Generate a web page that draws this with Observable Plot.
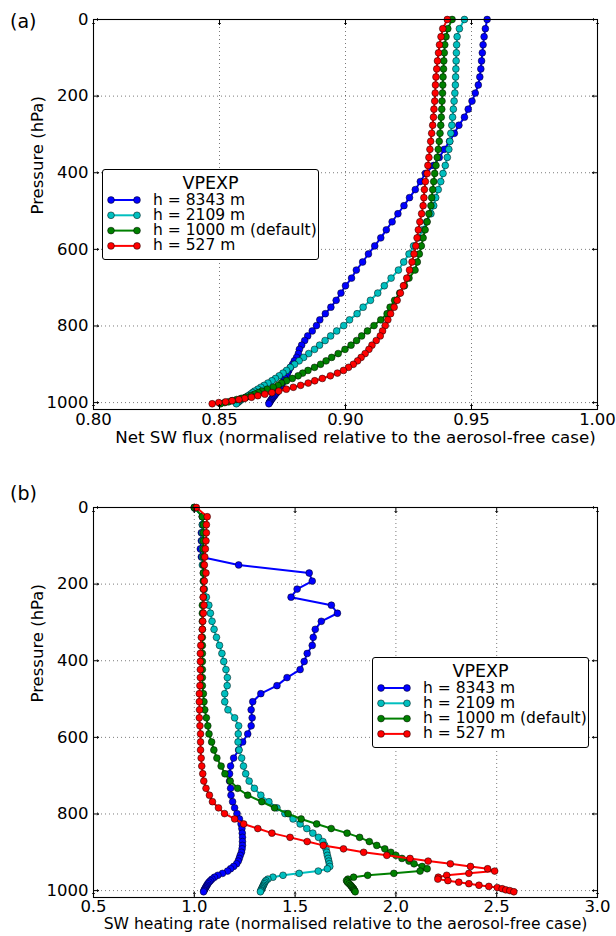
<!DOCTYPE html>
<html>
<head>
<meta charset="utf-8">
<script src="https://cdn.jsdelivr.net/npm/d3@7"></script>
<script src="https://cdn.jsdelivr.net/npm/@observablehq/plot@0.6"></script>
<style>
  html, body { margin: 0; padding: 0; background: #fff; }
  #wrap { position: relative; width: 616px; height: 936px; font-family: "DejaVu Sans", sans-serif; color: #000; }
  #wrap svg { display: block; }
  .plab { position: absolute; font-size: 19px; line-height: 1; }
  .legend { position: absolute; border: 1px solid #000; border-radius: 3px; background: #fff; box-sizing: border-box; }
  .legend .ttl { position: absolute; left: 0; right: 0; text-align: center; font-size: 17.5px; line-height: 15px; height: 15px; }
  .legend .ent { position: absolute; font-size: 15.5px; line-height: 13px; height: 13px; white-space: nowrap; }
  .legend svg { position: absolute; left: 0; top: 0; }
</style>
</head>
<body>
<div id="wrap"></div>
<script>
// ---------------- data ----------------
const levels = [0,24,45,66,87,108,129,150,171,192,
  213,234,255,276,297,318,339,360,381,402,
  423,444,465,486,507,528,549,570,591,612,
  633,654,675,695,714,733,751,768,784,799,
  813,826,838,850,861,872,882,891,900,908,
  916,923,930,937,943,949,955,960,965,970,
  974,978,982,986,989,992,995,998,1000,1003];

const seriesNames = ["h = 8343 m", "h = 2109 m", "h = 1000 m (default)", "h = 527 m"];
const seriesColors = ["#0000ff", "#00bfbf", "#008000", "#ff0000"];
const legendTitle = "VPEXP";

// Panel (a): net SW flux (normalised)
const fluxBlue = [0.9562,0.9555,0.955,0.9546,0.9543,0.954,0.9537,0.9533,0.9527,0.9515,
  0.9502,0.9487,0.9472,0.945,0.9432,0.9413,0.9392,0.9372,0.935,0.9317,
  0.9297,0.9277,0.9254,0.9232,0.9208,0.9185,0.9162,0.914,0.9116,0.9091,
  0.9068,0.9043,0.9024,0.9,0.8982,0.8963,0.8942,0.892,0.8898,0.8885,
  0.8868,0.885,0.8838,0.8826,0.8817,0.8813,0.8806,0.8797,0.879,0.8782,
  0.8775,0.877,0.8764,0.8759,0.8755,0.875,0.8746,0.8741,0.8736,0.8731,
  0.8727,0.8722,0.8718,0.8713,0.8709,0.8706,0.8703,0.87,0.8698,0.8696];
const fluxCyan = [0.9472,0.9452,0.9443,0.9441,0.944,0.9439,0.9438,0.9437,0.9436,0.9434,
  0.9431,0.9428,0.9425,0.9422,0.9418,0.9414,0.941,0.9404,0.9396,0.9387,
  0.9378,0.9368,0.9358,0.935,0.9339,0.9322,0.9306,0.9289,0.927,0.9252,
  0.9231,0.921,0.9181,0.9154,0.9128,0.9099,0.907,0.9046,0.9016,0.8993,
  0.8965,0.8941,0.8919,0.8897,0.8877,0.8854,0.8834,0.8816,0.8798,0.8781,
  0.8766,0.8752,0.8737,0.8722,0.8708,0.8692,0.8677,0.8664,0.8652,0.8639,
  0.8631,0.8623,0.8614,0.8604,0.8592,0.8587,0.8581,0.8576,0.8572,0.8567];
const fluxGreen = [0.9423,0.9406,0.9399,0.9394,0.9392,0.939,0.9389,0.9387,0.9386,0.9385,
  0.9383,0.9382,0.938,0.9378,0.9375,0.9372,0.9368,0.9364,0.9359,0.9354,
  0.935,0.9346,0.9342,0.9339,0.9331,0.9324,0.9316,0.9308,0.9301,0.9293,
  0.9285,0.9276,0.9252,0.9234,0.9215,0.9195,0.9177,0.9165,0.914,0.9113,
  0.9087,0.9064,0.9044,0.9022,0.8998,0.8971,0.8945,0.8923,0.8901,0.8877,
  0.8851,0.883,0.8812,0.8789,0.8766,0.8746,0.8732,0.8713,0.8689,0.8668,
  0.8654,0.864,0.8624,0.8605,0.8586,0.8568,0.855,0.8536,0.8521,0.8504];
const fluxRed = [0.9404,0.9386,0.9379,0.9373,0.9369,0.9365,0.9362,0.9359,0.9357,0.9356,
  0.9354,0.9351,0.9349,0.9346,0.9342,0.9338,0.9335,0.9331,0.9327,0.9324,
  0.9317,0.9313,0.9311,0.9308,0.9302,0.9295,0.9289,0.9284,0.9279,0.9272,
  0.9264,0.9254,0.9243,0.923,0.9218,0.9205,0.9193,0.9179,0.9168,0.9158,
  0.9147,0.9138,0.9122,0.9105,0.9093,0.9078,0.9062,0.9048,0.9031,0.9012,
  0.8992,0.8968,0.894,0.8908,0.8878,0.8852,0.8822,0.8793,0.8765,0.8735,
  0.8708,0.868,0.8652,0.8627,0.86,0.8577,0.855,0.8524,0.8497,0.8471];

// Panel (b): SW heating rate (normalised)
const heatBlue = [1.0,1.04,1.04,1.035,1.035,1.03,1.035,1.22,1.57,1.585,
  1.51,1.48,1.68,1.71,1.63,1.6,1.59,1.585,1.56,1.545,
  1.525,1.46,1.41,1.33,1.29,1.282,1.287,1.282,1.265,1.24,
  1.22,1.195,1.18,1.175,1.175,1.18,1.182,1.19,1.2,1.212,
  1.224,1.232,1.236,1.238,1.239,1.239,1.239,1.237,1.234,1.228,
  1.223,1.218,1.21,1.195,1.18,1.165,1.14,1.117,1.1,1.088,
  1.08,1.073,1.067,1.063,1.059,1.056,1.053,1.05,1.048,1.046];
const heatCyan = [1.0,1.04,1.04,1.04,1.04,1.04,1.04,1.04,1.045,1.045,
  1.05,1.06,1.072,1.08,1.088,1.098,1.11,1.125,1.137,1.146,
  1.157,1.164,1.163,1.151,1.151,1.167,1.2,1.22,1.218,1.217,
  1.222,1.235,1.244,1.255,1.272,1.298,1.33,1.37,1.41,1.45,
  1.49,1.525,1.558,1.588,1.616,1.638,1.647,1.653,1.657,1.66,
  1.664,1.667,1.67,1.672,1.66,1.615,1.52,1.44,1.39,1.365,
  1.355,1.35,1.346,1.343,1.34,1.337,1.335,1.332,1.33,1.328];
const heatGreen = [1.0,1.04,1.045,1.045,1.045,1.045,1.045,1.045,1.045,1.045,
  1.045,1.045,1.04,1.04,1.04,1.04,1.04,1.04,1.04,1.04,
  1.04,1.04,1.04,1.045,1.048,1.052,1.06,1.067,1.073,1.086,
  1.097,1.112,1.133,1.152,1.178,1.215,1.265,1.335,1.398,1.465,
  1.53,1.607,1.679,1.758,1.82,1.868,1.905,1.945,1.975,2.0,
  2.03,2.065,2.09,2.13,2.155,2.12,1.99,1.86,1.79,1.762,
  1.755,1.76,1.768,1.775,1.78,1.785,1.79,1.792,1.795,1.798];
const heatRed = [1.01,1.064,1.06,1.06,1.058,1.055,1.052,1.05,1.058,1.05,
  1.046,1.044,1.048,1.045,1.042,1.04,1.035,1.032,1.03,1.03,
  1.03,1.03,1.028,1.025,1.025,1.026,1.025,1.028,1.031,1.031,
  1.031,1.034,1.037,1.042,1.047,1.058,1.075,1.09,1.12,1.15,
  1.2,1.245,1.315,1.385,1.475,1.56,1.64,1.74,1.84,1.955,
  2.07,2.16,2.27,2.37,2.455,2.49,2.362,2.252,2.21,2.208,
  2.258,2.312,2.362,2.412,2.461,2.503,2.527,2.545,2.565,2.585];

const yTicks = [0, 200, 400, 600, 800, 1000];
const yDomain = [0, 1018];
const fluxTicks = [0.80, 0.85, 0.90, 0.95, 1.00];
const heatTicks = [0.5, 1.0, 1.5, 2.0, 2.5, 3.0];
const fluxLabel = "Net SW flux (normalised relative to the aerosol-free case)";
const heatLabel = "SW heating rate (normalised relative to the aerosol-free case)";
const yLabel = "Pressure (hPa)";

// ---------------- drawing ----------------
const FONT = 16.5;
function panel({xDomain, xTicks, xFmt, xLabel, seriesValues, marginTop, marginBottom, tickPad, labelDx, labelDy, labelFont}) {
  const marks = [];
  const gridStyle = {stroke: "#000", strokeOpacity: 0.75, strokeWidth: 0.7, strokeDasharray: "1,3"};
  marks.push(Plot.gridX(xTicks, gridStyle));
  marks.push(Plot.gridY(yTicks, gridStyle));
  seriesValues.forEach((vals, k) => {
    const data = levels.map((p, i) => ({p, v: vals[i]}));
    marks.push(Plot.line(data, {x: "v", y: "p", stroke: seriesColors[k], strokeWidth: 2}));
    marks.push(Plot.dot(data, {x: "v", y: "p", fill: seriesColors[k], stroke: "#000", strokeWidth: 0.5, r: 3.4}));
  });
  marks.push(Plot.frame({stroke: "#000", strokeWidth: 1.1}));
  const tk = {stroke: "#000", strokeWidth: 1, length: 5, anchor: "start"};
  marks.push(Plot.vector(yTicks, {x: xDomain[0], y: d => d, rotate: 90, ...tk}));
  marks.push(Plot.vector(yTicks, {x: xDomain[1], y: d => d, rotate: -90, ...tk}));
  marks.push(Plot.vector(xTicks, {x: d => d, y: yDomain[1], rotate: 0, ...tk}));
  marks.push(Plot.vector(xTicks, {x: d => d, y: yDomain[0], rotate: 180, ...tk}));
  marks.push(Plot.axisX(xTicks, {tickSize: 0, tickPadding: tickPad, tickFormat: xFmt, fontSize: FONT, label: null}));
  marks.push(Plot.axisY(yTicks, {tickSize: 0, tickPadding: 5, tickFormat: d3.format("d"), fontSize: FONT, label: null}));
  marks.push(Plot.text([xLabel], {frameAnchor: "bottom", dx: labelDx, dy: labelDy, fontSize: labelFont}));
  marks.push(Plot.text([yLabel], {frameAnchor: "left", dx: -56, rotate: -90, fontSize: FONT}));
  return Plot.plot({
    width: 616, height: 468,
    marginTop, marginBottom, marginLeft: 93, marginRight: 19,
    style: {fontFamily: "DejaVu Sans", fontSize: FONT + "px", background: "#fff", color: "#000", overflow: "visible"},
    x: {domain: xDomain},
    y: {domain: yDomain, reverse: true},
    marks
  });
}

function legend(left, top) {
  const div = document.createElement("div");
  div.className = "legend";
  const W = 217, H = 91;
  Object.assign(div.style, {left: left + "px", top: top + "px", width: W + "px", height: H + "px"});
  const ttl = document.createElement("div");
  ttl.className = "ttl"; ttl.textContent = legendTitle; ttl.style.top = "6px";
  div.appendChild(ttl);
  const svg = d3.create("svg").attr("width", W).attr("height", H);
  seriesNames.forEach((name, k) => {
    const cy = 30 + k * 15.3;
    svg.append("line").attr("x1", 8).attr("x2", 34).attr("y1", cy).attr("y2", cy)
      .attr("stroke", seriesColors[k]).attr("stroke-width", 2);
    [8, 34].forEach(cx => svg.append("circle").attr("cx", cx).attr("cy", cy).attr("r", 3.4)
      .attr("fill", seriesColors[k]).attr("stroke", "#000").attr("stroke-width", 0.5));
    const t = document.createElement("div");
    t.className = "ent"; t.textContent = name;
    t.style.left = "50px"; t.style.top = (cy - 6.5) + "px";
    div.appendChild(t);
  });
  div.insertBefore(svg.node(), div.firstChild);
  return div;
}

const wrap = document.getElementById("wrap");
wrap.appendChild(panel({
  xDomain: [0.8, 1.0], xTicks: fluxTicks, xFmt: d3.format(".2f"), xLabel: fluxLabel,
  seriesValues: [fluxBlue, fluxCyan, fluxGreen, fluxRed], marginTop: 19, marginBottom: 59,
  tickPad: 4, labelDx: 10, labelDy: 33.5, labelFont: 16.7
}));
wrap.appendChild(panel({
  xDomain: [0.5, 3.0], xTicks: heatTicks, xFmt: d3.format(".1f"), xLabel: heatLabel,
  seriesValues: [heatBlue, heatCyan, heatGreen, heatRed], marginTop: 39, marginBottom: 39,
  tickPad: 3, labelDx: 0, labelDy: 31.5, labelFont: 15.6
}));
const la = document.createElement("div"); la.className = "plab"; la.textContent = "(a)";
la.style.left = "10px"; la.style.top = "12px"; wrap.appendChild(la);
const lb = document.createElement("div"); lb.className = "plab"; lb.textContent = "(b)";
lb.style.left = "10px"; lb.style.top = "484px"; wrap.appendChild(lb);
wrap.appendChild(legend(102, 169));
wrap.appendChild(legend(372, 657));
</script>
</body>
</html>
